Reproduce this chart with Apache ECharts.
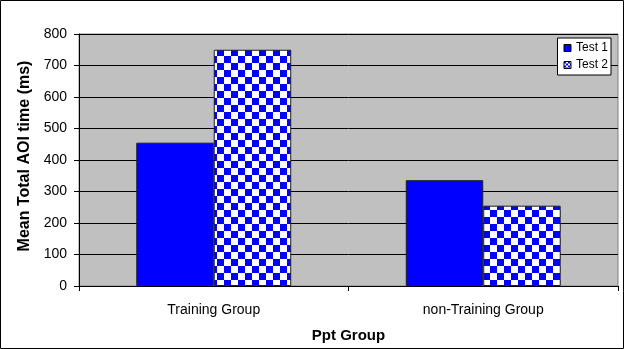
<!DOCTYPE html>
<html>
<head>
<meta charset="utf-8">
<script src="https://cdn.jsdelivr.net/npm/echarts@6/dist/echarts.min.js"></script>
<style>
  html, body { margin: 0; padding: 0; background: #fff; }
  #chart { width: 624px; height: 349px; }
</style>
</head>
<body>
<div id="chart"></div>
<script>
// Categories and values
var categories = ['Training Group', 'non-Training Group'];
var test1 = [455, 336];
var test2 = [750, 255];
var yTicks = [0, 100, 200, 300, 400, 500, 600, 700, 800];

// Blue/white checkerboard fill for the second series
function checker(cell) {
  var c = document.createElement('canvas');
  c.width = cell * 2;
  c.height = cell * 2;
  var ctx = c.getContext('2d');
  ctx.fillStyle = '#ffffff';
  ctx.fillRect(0, 0, cell * 2, cell * 2);
  ctx.fillStyle = '#0000ff';
  ctx.fillRect(0, 0, cell, cell);
  ctx.fillRect(cell, cell, cell, cell);
  return c;
}

var FONT = 'Liberation Sans, Arial, sans-serif';
var chart = echarts.init(document.getElementById('chart'), null, { renderer: 'canvas' });

chart.setOption({
  animation: false,
  backgroundColor: '#ffffff',
  textStyle: { fontFamily: FONT, color: '#000' },
  graphic: [{
    type: 'rect',
    shape: { x: 0.5, y: 0.5, width: 623, height: 348 },
    style: { fill: 'none', stroke: '#000', lineWidth: 1 },
    silent: true
  }],
  grid: {
    left: 79, top: 34, width: 539, height: 252,
    show: true, backgroundColor: '#c0c0c0', borderColor: '#808080', borderWidth: 1
  },
  legend: {
    orient: 'vertical',
    right: 13, top: 38,
    backgroundColor: '#ffffff',
    borderColor: '#000', borderWidth: 1,
    padding: [4, 3, 4, 6],
    itemGap: 5,
    itemWidth: 7, itemHeight: 7,
    icon: 'rect',
    itemStyle: { borderColor: '#000', borderWidth: 1 },
    textStyle: { fontFamily: FONT, fontSize: 12, color: '#000' },
    data: [
      { name: 'Test 1' },
      { name: 'Test 2', itemStyle: { color: { image: checker(2), repeat: 'repeat' } } }
    ]
  },
  xAxis: {
    type: 'category',
    data: categories,
    name: 'Ppt Group',
    nameLocation: 'middle',
    nameGap: 42,
    nameTextStyle: { fontFamily: FONT, fontSize: 15, fontWeight: 'bold', color: '#000' },
    axisLine: { lineStyle: { color: '#000', width: 1 } },
    axisTick: { show: true, alignWithLabel: false, length: 5, lineStyle: { color: '#000' } },
    axisLabel: { fontFamily: FONT, fontSize: 14, color: '#000', margin: 17 }
  },
  yAxis: {
    type: 'value',
    min: yTicks[0], max: yTicks[yTicks.length - 1], interval: 100,
    name: 'Mean Total AOI time (ms)',
    nameLocation: 'middle',
    nameGap: 42,
    nameTextStyle: { fontFamily: FONT, fontSize: 16, fontWeight: 'bold', color: '#000', padding: [0, 0, 0, 8] },
    axisLine: { show: true, lineStyle: { color: '#000', width: 1 } },
    axisTick: { show: true, length: 5, lineStyle: { color: '#000' } },
    axisLabel: { fontFamily: FONT, fontSize: 14, color: '#000', margin: 12 },
    splitLine: { show: true, lineStyle: { color: '#000', width: 1 } }
  },
  series: [
    {
      name: 'Test 1',
      type: 'bar',
      data: test1,
      barGap: '0%',
      barCategoryGap: '42.5%',
      itemStyle: { color: '#0000ff', borderColor: '#202020', borderWidth: 1 }
    },
    {
      name: 'Test 2',
      type: 'bar',
      data: test2,
      barGap: '0%',
      barCategoryGap: '42.5%',
      itemStyle: {
        color: { image: checker(7), repeat: 'repeat' },
        borderColor: '#202020', borderWidth: 1
      }
    }
  ]
});
</script>
</body>
</html>
